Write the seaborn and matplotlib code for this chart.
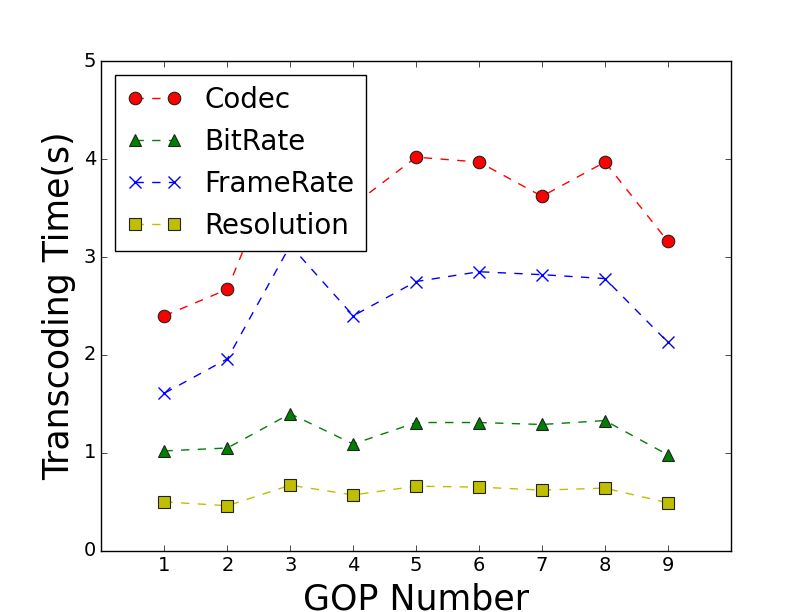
import numpy as np
import pandas as pd
import matplotlib
matplotlib.use("Agg")
import matplotlib.pyplot as plt
import seaborn as sns

gop = [1, 2, 3, 4, 5, 6, 7, 8, 9]
codec = [2.40, 2.67, 4.25, 3.53, 4.02, 3.97, 3.62, 3.97, 3.16]
bitrate = [1.02, 1.05, 1.40, 1.09, 1.31, 1.31, 1.29, 1.33, 0.98]
framerate = [1.61, 1.96, 3.12, 2.40, 2.75, 2.85, 2.82, 2.78, 2.13]
resolution = [0.50, 0.46, 0.67, 0.57, 0.66, 0.65, 0.62, 0.64, 0.49]

series = [
    ("Codec", codec, "r", "o"),
    ("BitRate", bitrate, "g", "^"),
    ("FrameRate", framerate, "b", "x"),
    ("Resolution", resolution, "y", "s"),
]

plt.style.use("classic")
fig, ax = plt.subplots(figsize=(8.12, 6.12), dpi=100, facecolor="white")

for name, vals, color, marker in series:
    df = pd.DataFrame({"gop": gop, "t": vals})
    sns.lineplot(data=df, x="gop", y="t", ax=ax, color=color, marker=marker,
                 linestyle="--", markersize=9, markeredgecolor=("b" if marker == "x" else "#222222"),
                 markeredgewidth=(1 if marker == "x" else 0.8), label=name, linewidth=1)

ax.set_xlim(0, 10)
ax.set_ylim(0, 5)
ax.set_xticks(gop)
ax.set_yticks([0, 1, 2, 3, 4, 5])
ax.tick_params(labelsize=14)
ax.set_xlabel("GOP Number", fontsize=25)
ax.set_ylabel("Transcoding Time(s)", fontsize=25)
ax.legend(loc="upper left", fontsize=20, numpoints=2, frameon=True)

fig.savefig("out.png", dpi=100, facecolor="white")
